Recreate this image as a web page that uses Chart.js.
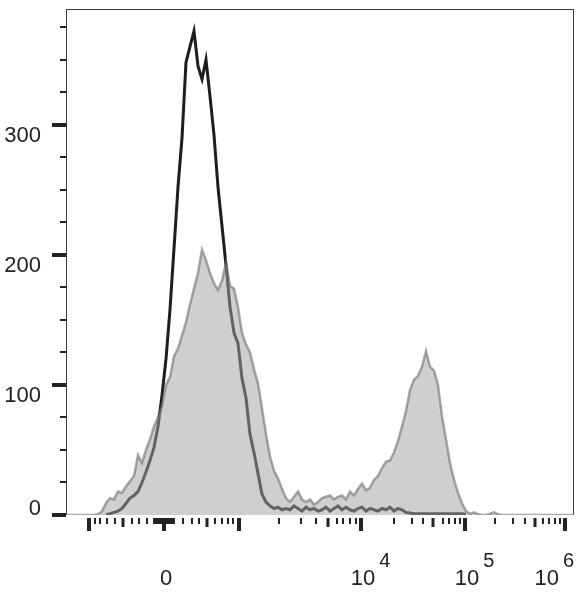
<!DOCTYPE html>
<html lang="en">
<head>
    <meta charset="UTF-8">
    <title>Histogram</title>
    <style>
        body {
            margin: 0;
            background-color: #ffffff;
        }
        #wrap {
            width: 588px;
            height: 600px;
        }
    </style>
    <script src="https://cdn.jsdelivr.net/npm/chart.js"></script>
</head>
<body>
    <div id="wrap">
        <canvas id="chart" width="588" height="600"></canvas>
    </div>
    <script>
        // histogram bins, 4 display channels each, channel 0 = left edge of the plot
        const binStep = 4;
        const channelMax = 508;

        // stained sample (grey filled)
        const stainedCounts = [
            0, 0, 0, 0, 0, 0, 0, 0, 0.5, 3,
            9, 13, 12, 18, 17, 22, 26, 30, 46, 40,
            50, 58, 68, 75, 84, 100, 106, 122, 128, 138,
            148, 162, 174, 186, 204, 196, 186, 178, 173, 180,
            194, 176, 174, 160, 140, 131, 125, 112, 101, 82,
            62, 45, 34, 28, 20, 13, 10, 14, 18, 12,
            10, 12, 8, 10, 13, 14, 15, 12, 14, 15,
            12, 18, 15, 20, 24, 19, 21, 27, 30, 36,
            41, 42, 48, 57, 68, 80, 96, 104, 107, 114,
            126, 114, 111, 100, 76, 58, 40, 27, 17, 9,
            3, 1, 2, 0.5, 0, 0, 1, 2, 0.5, 0,
            0, 0, 0, 0, 0, 0, 0, 0, 0, 0,
            0, 0, 0, 0, 0, 0, 0, 0
        ];

        // control (black line)
        const controlCounts = [
            null, null, null, null, null, null, null, null, null, null,
            0, 1, 2, 3, 5, 9, 13, 15, 18, 25,
            33, 42, 52, 68, 92, 120, 158, 205, 252, 290,
            348, 360, 372, 345, 335, 350, 322, 292, 252, 222,
            192, 160, 140, 132, 105, 90, 62, 48, 32, 16,
            10, 7, 5, 6, 4, 5, 4, 7, 5, 3,
            6, 4, 5, 3, 4, 6, 3, 5, 7, 4,
            6, 4, 3, 5, 6, 3, 5, 4, 3, 5,
            4, 6, 3, 5, 4, 2, 1.5, 1, 1, 1,
            1, 1, 1, 1, 1, 1, 1, 1, 1, 1,
            0.5
        ];

        // y axis
        const yMax = 389;
        const yTicks = [0, 25, 50, 75, 100, 125, 150, 175, 200, 225, 250, 275, 300, 325, 350, 375];
        const yLabels = [0, 100, 200, 300];

        // x axis (logicle display, positions in channels)
        const xMajorTicks = [23, 98, 173, 295, 399, 499];
        const xMidTicks = [57, 141, 262, 367, 469];
        const xMinorTicks = [29, 34, 41, 49, 66, 73, 81,
            88, 90, 92, 94, 96, 100, 102, 104, 106, 108,
            117, 126, 133, 149, 156, 162, 167,
            213, 235, 250, 271, 277, 284, 290,
            328, 346, 357, 377, 383, 389, 394,
            429, 447, 459, 477, 483, 489, 494];
        const xLabelTicks = [98, 295, 399, 499];
        const xLabelBase = ['0', '10', '10', '10'];
        const xLabelPower = ['', '4', '5', '6'];

        const font = '"Liberation Sans", Arial, sans-serif';

        const axisDecor = {
            id: 'axisDecor',
            beforeDatasetsDraw(chart) {
                const { ctx, chartArea: a } = chart;
                ctx.save();
                ctx.strokeStyle = '#3a3a3a';
                ctx.lineWidth = 1;
                ctx.beginPath();
                ctx.moveTo(a.left + 0.5, a.bottom);
                ctx.lineTo(a.left + 0.5, a.top + 0.5);
                ctx.lineTo(a.right - 0.5, a.top + 0.5);
                ctx.lineTo(a.right - 0.5, a.bottom);
                ctx.stroke();
                ctx.restore();
            },
            afterDraw(chart) {
                const { ctx, chartArea: a, scales: { x, y } } = chart;
                ctx.save();
                ctx.fillStyle = '#222';

                // y ticks + labels
                yTicks.forEach(v => {
                    const py = Math.round(y.getPixelForValue(v));
                    if (yLabels.includes(v)) {
                        ctx.fillRect(a.left - 14, py - 2, 14, 4);
                    } else {
                        ctx.fillRect(a.left - 6, py - 1, 6, 2);
                    }
                });
                ctx.font = '22px ' + font;
                ctx.textAlign = 'right';
                ctx.textBaseline = 'alphabetic';
                yLabels.forEach(v => {
                    const py = y.getPixelForValue(v);
                    ctx.fillText(String(v), a.left - 25, v === 0 ? py : py + 17);
                });

                // x ticks
                const top = a.bottom + 3;
                xMajorTicks.forEach(c => {
                    const px = Math.round(x.getPixelForValue(c));
                    ctx.fillRect(px - 2, top, 4, 13);
                });
                xMidTicks.forEach(c => {
                    const px = Math.round(x.getPixelForValue(c));
                    ctx.fillRect(px - 1.5, top, 3, 9);
                });
                xMinorTicks.forEach(c => {
                    const px = Math.round(x.getPixelForValue(c));
                    ctx.fillRect(px - 1, top, 2, 6);
                });

                // x labels, 10 with a raised power
                const base = a.bottom + 70;
                xLabelTicks.forEach((c, i) => {
                    const px = x.getPixelForValue(c);
                    ctx.font = '22px ' + font;
                    const wBase = ctx.measureText(xLabelBase[i]).width;
                    ctx.font = '20px ' + font;
                    const wPow = xLabelPower[i] ? ctx.measureText(xLabelPower[i]).width + 4 : 0;
                    let left = px + 2 - wBase / 2;
                    if (left + wBase + wPow > a.right) left = a.right - wBase - wPow;
                    ctx.textAlign = 'left';
                    ctx.font = '22px ' + font;
                    ctx.fillText(xLabelBase[i], left, base);
                    if (xLabelPower[i]) {
                        ctx.font = '20px ' + font;
                        ctx.fillText(xLabelPower[i], left + wBase + 4, base - 18);
                    }
                });
                ctx.restore();
            }
        };

        const toPoints = arr => arr.map((v, i) => ({ x: i * binStep, y: v }));

        new Chart(document.getElementById('chart'), {
            type: 'line',
            data: {
                datasets: [{
                    label: 'Stained',
                    data: toPoints(stainedCounts),
                    borderColor: 'rgba(110, 110, 110, 0.6)',
                    backgroundColor: 'rgba(163, 163, 163, 0.52)',
                    borderWidth: 2.5,
                    fill: 'origin',
                    pointRadius: 0,
                    order: 0
                }, {
                    label: 'Control',
                    data: toPoints(controlCounts),
                    borderColor: '#1e1e1e',
                    borderWidth: 3,
                    fill: false,
                    pointRadius: 0,
                    spanGaps: false,
                    order: 1
                }]
            },
            options: {
                responsive: false,
                animation: false,
                layout: {
                    padding: { left: 66, top: 9, right: 14, bottom: 85 }
                },
                plugins: {
                    legend: { display: false },
                    tooltip: { enabled: false }
                },
                scales: {
                    x: { type: 'linear', min: 0, max: channelMax, display: false },
                    y: { min: 0, max: yMax, display: false }
                }
            },
            plugins: [axisDecor]
        });
    </script>
</body>
</html>
